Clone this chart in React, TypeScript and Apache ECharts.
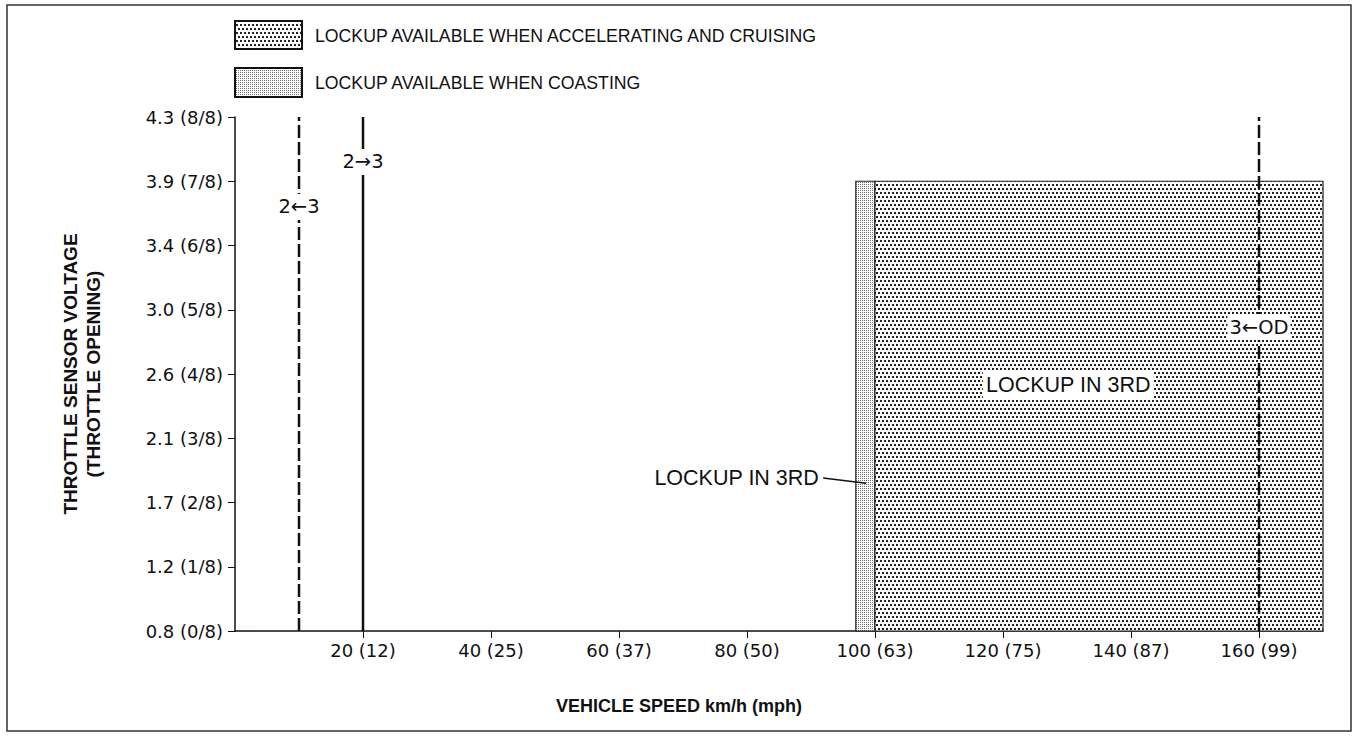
import React, { useEffect, useRef } from "react";
import * as echarts from "echarts";

// ---- data ----
const speedTicks = [20, 40, 60, 80, 100, 120, 140, 160];
const speedLabels = ["20 (12)", "40 (25)", "60 (37)", "80 (50)", "100 (63)", "120 (75)", "140 (87)", "160 (99)"];
const throttleTicks = [0, 1, 2, 3, 4, 5, 6, 7, 8];
const throttleLabels = ["0.8 (0/8)", "1.2 (1/8)", "1.7 (2/8)", "2.1 (3/8)", "2.6 (4/8)", "3.0 (5/8)", "3.4 (6/8)", "3.9 (7/8)", "4.3 (8/8)"];

const downshift23 = [[10, 0], [10, 8]]; // 2←3
const upshift23 = [[20, 0], [20, 8]]; // 2→3
const downshift3OD = [[160, 0], [160, 8]]; // 3←OD
const coastingLockup = [[97, 0, 100, 7]]; // x0, y0, x1, y1
const accelLockup = [[100, 0, 170, 7]];
const leaderLine = [[91.9, 2.38], [98.6, 2.3]];
const shiftNotes = [
  { name: "2←3", value: [10, 6.6] },
  { name: "2→3", value: [20, 7.3] },
  { name: "3←OD", value: [160, 4.73] },
];
const regionNote = [{ name: "LOCKUP IN 3RD", value: [130.2, 3.83] }];
const sideNote = [{ name: "LOCKUP IN 3RD", value: [91.7, 2.38] }];
const legendItems = ["LOCKUP AVAILABLE WHEN ACCELERATING AND CRUISING", "LOCKUP AVAILABLE WHEN COASTING"];

const FONT = "'Liberation Sans', Arial, Helvetica, 'DejaVu Sans', sans-serif";
const NUMFONT = "'DejaVu Sans', 'Liberation Sans', sans-serif";

function makeDotPattern() {
  const c = document.createElement("canvas");
  c.width = 4;
  c.height = 8;
  const ctx = c.getContext("2d")!;
  ctx.fillStyle = "#ffffff";
  ctx.fillRect(0, 0, 4, 8);
  ctx.fillStyle = "#222222";
  ctx.fillRect(0, 0, 2, 2);
  ctx.fillRect(2, 4, 2, 2);
  return { image: c, repeat: "repeat", imageWidth: 4, imageHeight: 8 } as any;
}

function makeFinePattern() {
  const c = document.createElement("canvas");
  c.width = 2;
  c.height = 2;
  const ctx = c.getContext("2d")!;
  ctx.fillStyle = "#ffffff";
  ctx.fillRect(0, 0, 2, 2);
  ctx.fillStyle = "#707070";
  ctx.fillRect(0, 0, 1, 1);
  return { image: c, repeat: "repeat", imageWidth: 2, imageHeight: 2 } as any;
}

export default function App() {
  const ref = useRef<HTMLDivElement>(null);

  useEffect(() => {
    if (!ref.current) return;
    const chart = echarts.init(ref.current, null, { renderer: "svg" });
    const dots = makeDotPattern();
    const fine = makeFinePattern();

    const rectRender = (fill: any) => (params: any, api: any) => {
      const p0 = api.coord([api.value(0), api.value(1)]);
      const p1 = api.coord([api.value(2), api.value(3)]);
      return {
        type: "rect",
        shape: { x: p0[0], y: p1[1], width: p1[0] - p0[0], height: p0[1] - p1[1] },
        style: { fill, stroke: "#222", lineWidth: 1.2 },
      };
    };

    const vline = (data: number[][], dashed: boolean) => ({
      type: "line",
      data,
      symbol: "none",
      silent: true,
      z: 4,
      lineStyle: {
        color: "#111",
        width: 2.5,
        type: dashed ? [13, 4] : "solid",
      },
    });

    const noteLabel = (fontFamily: string, fontSize: number, padding: number[], bg: string | null, position: string, distance = 0) => ({
      show: true,
      position,
      distance,
      formatter: (p: any) => p.name,
      fontFamily,
      fontSize,
      color: "#111",
      opacity: 1,
      textBorderWidth: 0,
      backgroundColor: bg || "transparent",
      padding,
    });

    const noteSeries = (data: any[], label: any) => ({
      type: "scatter",
      data,
      symbolSize: 0,
      silent: true,
      z: 6,
      itemStyle: { opacity: 1, color: "#ffffff" },
      label,
      emphasis: { disabled: true },
    });

    const option: any = {
      animation: false,
      backgroundColor: "#ffffff",
      textStyle: { fontFamily: FONT, color: "#111" },
      grid: { left: 235, top: 117, width: 1088, height: 514, containLabel: false },
      xAxis: {
        type: "value",
        min: 0,
        max: 170,
        interval: 20,
        name: "VEHICLE SPEED km/h (mph)",
        nameLocation: "middle",
        nameGap: 66,
        nameTextStyle: { fontFamily: FONT, fontWeight: "bold", fontSize: 18, color: "#111", padding: [0, 200, 0, 0] },
        splitLine: { show: false },
        axisLine: { lineStyle: { color: "#111", width: 1.5 } },
        axisTick: {
          show: true,
          length: 7,
          inside: false,
          customValues: speedTicks,
          lineStyle: { color: "#111", width: 1 },
        },
        axisLabel: {
          customValues: speedTicks,
          margin: 10,
          fontSize: 18,
          fontFamily: NUMFONT,
          color: "#111",
          formatter: (v: number) => {
            const i = speedTicks.indexOf(v);
            return i >= 0 ? speedLabels[i] : "";
          },
        },
      },
      yAxis: {
        type: "value",
        min: 0,
        max: 8,
        interval: 1,
        name: "THROTTLE SENSOR VOLTAGE\n(THROTTLE OPENING)",
        nameLocation: "middle",
        nameGap: 130,
        nameRotate: 90,
        nameTextStyle: { fontFamily: FONT, fontWeight: "bold", fontSize: 19, lineHeight: 23, color: "#111", align: "center" },
        splitLine: { show: false },
        axisLine: { show: true, lineStyle: { color: "#111", width: 1.5 } },
        axisTick: { show: true, length: 7, inside: false, lineStyle: { color: "#111", width: 1 } },
        axisLabel: {
          margin: 12,
          fontSize: 18,
          fontFamily: NUMFONT,
          color: "#111",
          formatter: (v: number) => {
            const i = throttleTicks.indexOf(v);
            return i >= 0 ? throttleLabels[i] : "";
          },
        },
      },
      graphic: [
        {
          type: "rect",
          shape: { x: 7, y: 5, width: 1344, height: 726 },
          style: { fill: "none", stroke: "#333", lineWidth: 1.5 },
          silent: true,
        },
        {
          type: "rect",
          shape: { x: 235, y: 21, width: 67, height: 28 },
          style: { fill: dots, stroke: "#111", lineWidth: 2 },
        },
        {
          type: "text",
          x: 315,
          y: 36,
          style: { text: legendItems[0], fontFamily: FONT, fontSize: 17.7, fill: "#111", verticalAlign: "middle" },
        },
        {
          type: "rect",
          shape: { x: 235, y: 68, width: 67, height: 29 },
          style: { fill: fine, stroke: "#111", lineWidth: 2 },
        },
        {
          type: "text",
          x: 315,
          y: 83,
          style: { text: legendItems[1], fontFamily: FONT, fontSize: 17.7, fill: "#111", verticalAlign: "middle" },
        },
      ],
      series: [
        {
          type: "custom",
          data: coastingLockup,
          encode: { x: [0, 2], y: [1, 3] },
          renderItem: rectRender(fine),
          z: 1,
          silent: true,
        },
        {
          type: "custom",
          data: accelLockup,
          encode: { x: [0, 2], y: [1, 3] },
          renderItem: rectRender(dots),
          z: 1,
          silent: true,
        },
        vline(downshift23, true),
        vline(upshift23, false),
        vline(downshift3OD, true),
        {
          type: "line",
          data: leaderLine,
          symbol: "none",
          silent: true,
          z: 4,
          lineStyle: { color: "#111", width: 1.5 },
        },
        noteSeries(shiftNotes, noteLabel(NUMFONT, 19.5, [3, 2], "#ffffff", "inside")),
        noteSeries(regionNote, noteLabel(FONT, 21.5, [4, 3], "#ffffff", "inside")),
        noteSeries(sideNote, noteLabel(FONT, 21.5, [0, 0], null, "left", 3)),
      ],
    };

    chart.setOption(option);
    return () => chart.dispose();
  }, []);

  return <div ref={ref} style={{ width: 1355, height: 736, position: "absolute", left: 0, top: 0 }} />;
}
